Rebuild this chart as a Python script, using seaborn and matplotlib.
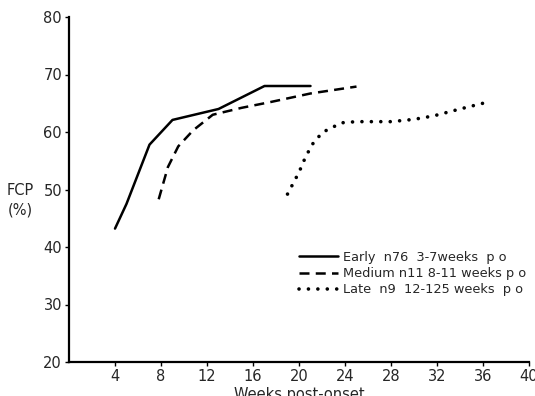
import matplotlib
matplotlib.use("Agg")
import matplotlib.pyplot as plt
import seaborn as sns
import pandas as pd

early_weeks = [4, 5, 7, 9, 13, 17, 21]
early_fcp = [43.2, 47.5, 57.8, 62.1, 64.0, 68.0, 68.0]

medium_weeks = [7.8, 8.6, 9.5, 10.8, 12.5, 15, 17.5, 21, 25]
medium_fcp = [48.3, 53.9, 57.5, 60.3, 63.0, 64.2, 65.2, 66.7, 67.9]

late_weeks = [19, 20, 20.6, 21.3, 22.1, 23.7, 25, 28, 30, 31.7, 34, 36]
late_fcp = [49.2, 53.0, 55.8, 58.3, 60.0, 61.6, 61.8, 61.8, 62.2, 62.8, 64.0, 65.0]

labels = ["Early  n76  3-7weeks  p o",
          "Medium n11 8-11 weeks p o",
          "Late  n9  12-125 weeks  p o"]

x_ticks = [4, 8, 12, 16, 20, 24, 28, 32, 36, 40]
y_ticks = [20, 30, 40, 50, 60, 70, 80]

sns.set_theme(style="white")
plt.rcParams['font.family'] = ['DejaVu Sans']

fig = plt.figure(figsize=(5.35, 3.96), dpi=100)
ax = fig.add_axes([69/535, 1-362/396, (529-69)/535, (362-17)/396])

styles = [("-", 1.8, "butt"), ((0, (4, 2.5)), 1.8, "butt"), ((0, (0.01, 2.6)), 2.6, "round")]
series = [(early_weeks, early_fcp), (medium_weeks, medium_fcp), (late_weeks, late_fcp)]
for (wx, wy), (ls, lw, cap), lab in zip(series, styles, labels):
    df = pd.DataFrame({"w": wx, "f": wy})
    sns.lineplot(data=df, x="w", y="f", ax=ax, color="black", linewidth=lw,
                 linestyle=ls, label=lab, estimator=None, sort=False,
                 dash_capstyle=cap)

ax.set_xlim(0, 40)
ax.set_ylim(20, 80)
ax.set_xticks(x_ticks)
ax.set_yticks(y_ticks)
ax.tick_params(axis="both", labelsize=10.5, length=3, width=1, color="black",
               direction="out", bottom=True, left=True, pad=2)
for s in ["top", "right"]:
    ax.spines[s].set_visible(False)
for s in ["left", "bottom"]:
    ax.spines[s].set_color("black")
    ax.spines[s].set_linewidth(1.6)
ax.set_xlabel("Weeks post-onset", fontsize=10.5, labelpad=2)
ax.set_ylabel("")
fig.text(20/535, 1-200/396, "FCP\n(%)", fontsize=10.5, ha="center", va="center",
         linespacing=1.4)

leg = ax.legend(loc="upper left", bbox_to_anchor=(0.50, 0.322), frameon=False,
                fontsize=9.3, handlelength=3.0, handletextpad=0.4,
                labelspacing=0.25, borderaxespad=0, borderpad=0)

fig.savefig("out.png", dpi=100)
